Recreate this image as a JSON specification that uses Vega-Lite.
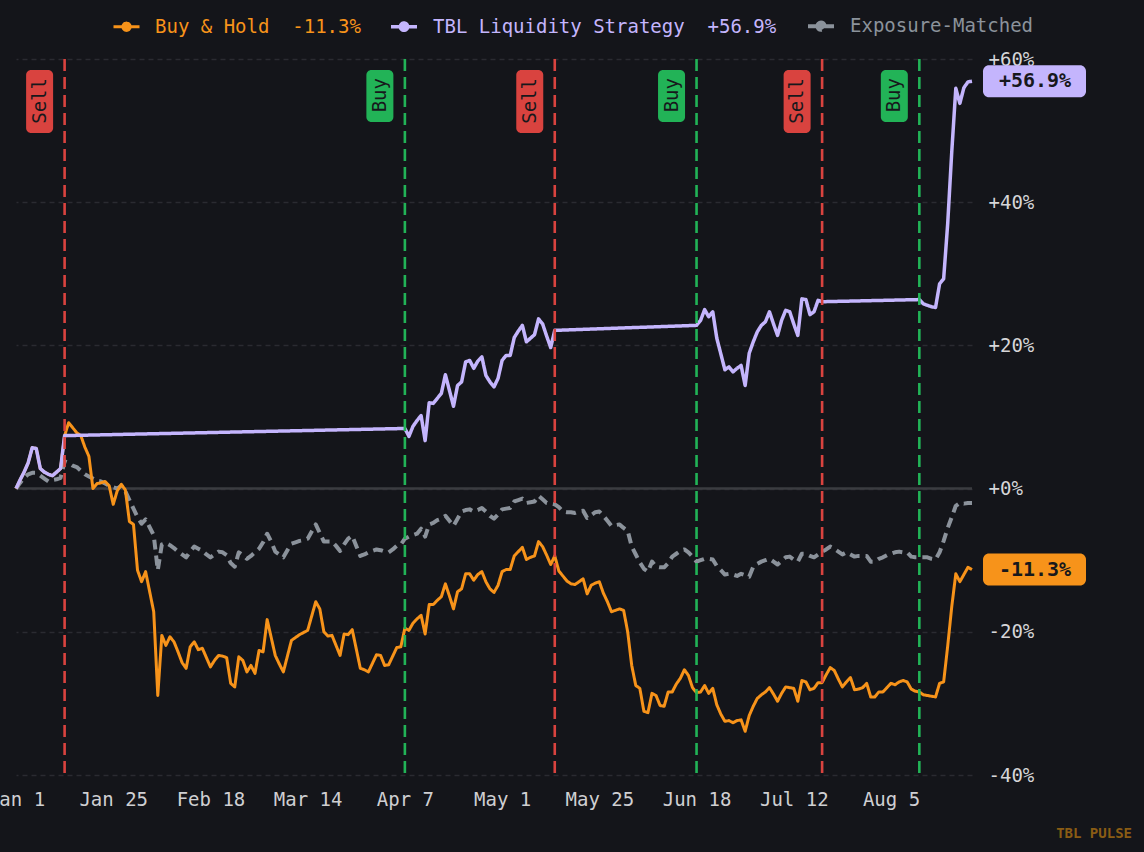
{
  "$schema": "https://vega.github.io/schema/vega-lite/v6.json",
  "width": 956,
  "height": 716,
  "autosize": {"type": "none"},
  "padding": {"left": 16, "top": 59, "right": 172, "bottom": 77},
  "background": "#14151a",
  "title": {
    "text": "TBL PULSE",
    "orient": "bottom",
    "anchor": "end",
    "frame": "group",
    "font": "DejaVu Sans Mono",
    "fontSize": 14,
    "fontWeight": "bold",
    "color": "#8a5c14",
    "offset": 18,
    "dx": 160
  },
  "datasets": {
    "perf": [
      {"d": "2025/01/01", "b": 0.0, "s": 0.0, "e": 0.0},
      {"d": "2025/01/02", "b": 1.2, "s": 1.2, "e": 0.8},
      {"d": "2025/01/03", "b": 2.3, "s": 2.3, "e": 1.5},
      {"d": "2025/01/04", "b": 3.6, "s": 3.6, "e": 2.0},
      {"d": "2025/01/05", "b": 5.7, "s": 5.7, "e": 2.2},
      {"d": "2025/01/06", "b": 5.6, "s": 5.6, "e": 2.2},
      {"d": "2025/01/07", "b": 2.8, "s": 2.8, "e": 1.8},
      {"d": "2025/01/08", "b": 2.3, "s": 2.3, "e": 1.4},
      {"d": "2025/01/09", "b": 2.0, "s": 2.0, "e": 1.0},
      {"d": "2025/01/10", "b": 1.8, "s": 1.8, "e": 1.2},
      {"d": "2025/01/11", "b": 2.3, "s": 2.3, "e": 1.3},
      {"d": "2025/01/12", "b": 2.8, "s": 2.8, "e": 1.5},
      {"d": "2025/01/13", "b": 7.4, "s": 7.4, "e": 3.8},
      {"d": "2025/01/14", "b": 9.2, "e": 3.6},
      {"d": "2025/01/15", "b": 8.5, "e": 3.2},
      {"d": "2025/01/16", "b": 7.8, "e": 3.0},
      {"d": "2025/01/17", "b": 7.4, "e": 2.5},
      {"d": "2025/01/18", "b": 5.8, "e": 2.0},
      {"d": "2025/01/19", "b": 4.5, "e": 1.7},
      {"d": "2025/01/20", "b": 0.0, "e": 1.4},
      {"d": "2025/01/21", "b": 0.7, "e": 1.1},
      {"d": "2025/01/22", "b": 0.8, "e": 1.0},
      {"d": "2025/01/23", "b": 1.0, "e": 0.7},
      {"d": "2025/01/24", "b": 0.4, "e": 0.4},
      {"d": "2025/01/25", "b": -2.2, "e": 0.2},
      {"d": "2025/01/26", "b": -0.3, "e": 0.0},
      {"d": "2025/01/27", "b": 0.6, "e": 0.4},
      {"d": "2025/01/28", "b": -0.2, "e": -0.4},
      {"d": "2025/01/29", "b": -4.6, "e": -1.6},
      {"d": "2025/01/30", "b": -5.0, "e": -2.8},
      {"d": "2025/01/31", "b": -11.4, "e": -4.0},
      {"d": "2025/02/01", "b": -13.0, "e": -4.9},
      {"d": "2025/02/02", "b": -11.6, "e": -4.3},
      {"d": "2025/02/03", "b": -14.4, "e": -5.4},
      {"d": "2025/02/04", "b": -17.2, "e": -6.5},
      {"d": "2025/02/05", "b": -28.9, "e": -11.4},
      {"d": "2025/02/06", "b": -20.5, "e": -7.8},
      {"d": "2025/02/07", "b": -21.9, "e": -7.6},
      {"d": "2025/02/08", "b": -20.7, "e": -7.9},
      {"d": "2025/02/09", "b": -21.4, "e": -8.3},
      {"d": "2025/02/10", "b": -22.8, "e": -8.8},
      {"d": "2025/02/11", "b": -24.3, "e": -9.2},
      {"d": "2025/02/12", "b": -25.1, "e": -9.6},
      {"d": "2025/02/13", "b": -22.1, "e": -8.8},
      {"d": "2025/02/14", "b": -21.4, "e": -8.1},
      {"d": "2025/02/15", "b": -22.5, "e": -8.4},
      {"d": "2025/02/16", "b": -22.3, "e": -8.7},
      {"d": "2025/02/17", "b": -23.6, "e": -9.2},
      {"d": "2025/02/18", "b": -24.9, "e": -9.6},
      {"d": "2025/02/19", "b": -24.0, "e": -9.2},
      {"d": "2025/02/20", "b": -23.3, "e": -8.8},
      {"d": "2025/02/21", "b": -23.4, "e": -8.9},
      {"d": "2025/02/22", "b": -23.6, "e": -9.3},
      {"d": "2025/02/23", "b": -27.2, "e": -10.4},
      {"d": "2025/02/24", "b": -27.7, "e": -10.9},
      {"d": "2025/02/25", "b": -23.5, "e": -8.9},
      {"d": "2025/02/26", "b": -24.0, "e": -9.3},
      {"d": "2025/02/27", "b": -25.6, "e": -9.8},
      {"d": "2025/02/28", "b": -24.7, "e": -9.4},
      {"d": "2025/03/01", "b": -25.8, "e": -8.9},
      {"d": "2025/03/02", "b": -22.6, "e": -8.4},
      {"d": "2025/03/03", "b": -22.8, "e": -7.5},
      {"d": "2025/03/04", "b": -18.3, "e": -6.3},
      {"d": "2025/03/05", "b": -20.8, "e": -7.4},
      {"d": "2025/03/06", "b": -23.3, "e": -8.8},
      {"d": "2025/03/07", "b": -24.5, "e": -9.2},
      {"d": "2025/03/08", "b": -25.6, "e": -9.6},
      {"d": "2025/03/09", "b": -23.4, "e": -8.6},
      {"d": "2025/03/10", "b": -21.2, "e": -7.7},
      {"d": "2025/03/11", "b": -20.8, "e": -7.5},
      {"d": "2025/03/12", "b": -20.4, "e": -7.3},
      {"d": "2025/03/13", "b": -20.1, "e": -7.2},
      {"d": "2025/03/14", "b": -19.8, "e": -7.0},
      {"d": "2025/03/15", "b": -17.8, "e": -6.0},
      {"d": "2025/03/16", "b": -15.8, "e": -5.0},
      {"d": "2025/03/17", "b": -16.8, "e": -6.2},
      {"d": "2025/03/18", "b": -20.0, "e": -7.4},
      {"d": "2025/03/19", "b": -20.6, "e": -7.4},
      {"d": "2025/03/20", "b": -20.5, "e": -7.4},
      {"d": "2025/03/21", "b": -21.9, "e": -8.0},
      {"d": "2025/03/22", "b": -23.3, "e": -8.7},
      {"d": "2025/03/23", "b": -20.3, "e": -7.8},
      {"d": "2025/03/24", "b": -20.4, "e": -7.0},
      {"d": "2025/03/25", "b": -19.7, "e": -6.6},
      {"d": "2025/03/26", "b": -22.4, "e": -8.0},
      {"d": "2025/03/27", "b": -25.1, "e": -9.4},
      {"d": "2025/03/28", "b": -25.3, "e": -9.2},
      {"d": "2025/03/29", "b": -25.6, "e": -8.9},
      {"d": "2025/03/30", "b": -24.4, "e": -8.7},
      {"d": "2025/03/31", "b": -23.2, "e": -8.5},
      {"d": "2025/04/01", "b": -23.3, "e": -8.6},
      {"d": "2025/04/02", "b": -24.7, "e": -8.8},
      {"d": "2025/04/03", "b": -24.6, "e": -8.9},
      {"d": "2025/04/04", "b": -23.4, "e": -8.5},
      {"d": "2025/04/05", "b": -22.2, "e": -8.0},
      {"d": "2025/04/06", "b": -22.1, "e": -7.8},
      {"d": "2025/04/07", "b": -19.5, "s": 8.4, "e": -7.0},
      {"d": "2025/04/08", "b": -19.8, "s": 7.3, "e": -6.7},
      {"d": "2025/04/09", "b": -18.8, "s": 8.7, "e": -6.5},
      {"d": "2025/04/10", "b": -18.2, "s": 9.5, "e": -6.3},
      {"d": "2025/04/11", "b": -17.7, "s": 10.2, "e": -5.6},
      {"d": "2025/04/12", "b": -20.3, "s": 6.7, "e": -6.7},
      {"d": "2025/04/13", "b": -16.2, "s": 12.0, "e": -5.0},
      {"d": "2025/04/14", "b": -16.2, "s": 11.9, "e": -4.8},
      {"d": "2025/04/15", "b": -15.6, "s": 12.6, "e": -4.4},
      {"d": "2025/04/16", "b": -15.1, "s": 13.3, "e": -4.2},
      {"d": "2025/04/17", "b": -13.3, "s": 15.9, "e": -3.8},
      {"d": "2025/04/18", "b": -15.0, "s": 13.7, "e": -4.5},
      {"d": "2025/04/19", "b": -16.8, "s": 11.5, "e": -5.2},
      {"d": "2025/04/20", "b": -14.4, "s": 14.4, "e": -4.2},
      {"d": "2025/04/21", "b": -14.0, "s": 14.9, "e": -3.2},
      {"d": "2025/04/22", "b": -11.9, "s": 17.7, "e": -3.0},
      {"d": "2025/04/23", "b": -11.9, "s": 17.9, "e": -2.9},
      {"d": "2025/04/24", "b": -12.8, "s": 16.8, "e": -3.2},
      {"d": "2025/04/25", "b": -12.0, "s": 17.8, "e": -3.0},
      {"d": "2025/04/26", "b": -11.6, "s": 18.4, "e": -2.7},
      {"d": "2025/04/27", "b": -13.0, "s": 15.8, "e": -3.2},
      {"d": "2025/04/28", "b": -14.0, "s": 14.9, "e": -3.8},
      {"d": "2025/04/29", "b": -14.5, "s": 14.2, "e": -4.2},
      {"d": "2025/04/30", "b": -13.5, "s": 15.4, "e": -3.6},
      {"d": "2025/05/01", "b": -11.6, "s": 17.9, "e": -2.9},
      {"d": "2025/05/02", "b": -11.3, "s": 18.6, "e": -2.8},
      {"d": "2025/05/03", "b": -11.3, "s": 18.6, "e": -2.7},
      {"d": "2025/05/04", "b": -9.4, "s": 21.1, "e": -1.8},
      {"d": "2025/05/05", "b": -8.8, "s": 22.0, "e": -1.6},
      {"d": "2025/05/06", "b": -8.2, "s": 22.8, "e": -1.4},
      {"d": "2025/05/07", "b": -9.9, "s": 20.5, "e": -2.0},
      {"d": "2025/05/08", "b": -9.6, "s": 21.0, "e": -1.9},
      {"d": "2025/05/09", "b": -9.4, "s": 21.5, "e": -1.8},
      {"d": "2025/05/10", "b": -7.4, "s": 23.7, "e": -1.0},
      {"d": "2025/05/11", "b": -8.1, "s": 23.0, "e": -1.5},
      {"d": "2025/05/12", "b": -9.3, "s": 21.3, "e": -2.0},
      {"d": "2025/05/13", "b": -10.6, "s": 19.7, "e": -2.1},
      {"d": "2025/05/14", "b": -9.4, "s": 22.1, "e": -2.2},
      {"d": "2025/05/15", "b": -11.5, "e": -2.6},
      {"d": "2025/05/16", "b": -12.2, "e": -3.2},
      {"d": "2025/05/17", "b": -12.9, "e": -3.3},
      {"d": "2025/05/18", "b": -13.3, "e": -3.3},
      {"d": "2025/05/19", "b": -13.4, "e": -3.4},
      {"d": "2025/05/20", "b": -13.0, "e": -3.2},
      {"d": "2025/05/21", "b": -12.6, "e": -3.1},
      {"d": "2025/05/22", "b": -14.7, "e": -4.1},
      {"d": "2025/05/23", "b": -13.5, "e": -3.7},
      {"d": "2025/05/24", "b": -13.2, "e": -3.3},
      {"d": "2025/05/25", "b": -13.0, "e": -3.2},
      {"d": "2025/05/26", "b": -14.6, "e": -3.8},
      {"d": "2025/05/27", "b": -15.8, "e": -4.5},
      {"d": "2025/05/28", "b": -17.2, "e": -5.2},
      {"d": "2025/05/29", "b": -17.0, "e": -5.1},
      {"d": "2025/05/30", "b": -16.8, "e": -5.0},
      {"d": "2025/05/31", "b": -17.0, "e": -5.5},
      {"d": "2025/06/01", "b": -20.0, "e": -5.9},
      {"d": "2025/06/02", "b": -24.7, "e": -8.1},
      {"d": "2025/06/03", "b": -27.5, "e": -9.2},
      {"d": "2025/06/04", "b": -27.9, "e": -10.3},
      {"d": "2025/06/05", "b": -31.1, "e": -11.2},
      {"d": "2025/06/06", "b": -31.3, "e": -11.6},
      {"d": "2025/06/07", "b": -28.6, "e": -10.2},
      {"d": "2025/06/08", "b": -28.9, "e": -10.9},
      {"d": "2025/06/09", "b": -30.3, "e": -11.0},
      {"d": "2025/06/10", "b": -30.4, "e": -11.0},
      {"d": "2025/06/11", "b": -28.4, "e": -10.4},
      {"d": "2025/06/12", "b": -28.4, "e": -9.5},
      {"d": "2025/06/13", "b": -27.3, "e": -9.1},
      {"d": "2025/06/14", "b": -26.5, "e": -8.7},
      {"d": "2025/06/15", "b": -25.3, "e": -8.5},
      {"d": "2025/06/16", "b": -26.1, "e": -8.9},
      {"d": "2025/06/17", "b": -27.8, "e": -9.5},
      {"d": "2025/06/18", "b": -28.5, "s": 22.8, "e": -10.2},
      {"d": "2025/06/19", "b": -28.4, "s": 23.5, "e": -10.0},
      {"d": "2025/06/20", "b": -27.5, "s": 25.0, "e": -9.8},
      {"d": "2025/06/21", "b": -28.6, "s": 24.0, "e": -9.8},
      {"d": "2025/06/22", "b": -27.9, "s": 24.7, "e": -9.9},
      {"d": "2025/06/23", "b": -30.2, "s": 21.0, "e": -10.8},
      {"d": "2025/06/24", "b": -31.5, "s": 18.8, "e": -11.4},
      {"d": "2025/06/25", "b": -32.5, "s": 16.6, "e": -12.0},
      {"d": "2025/06/26", "b": -32.4, "s": 17.0, "e": -11.9},
      {"d": "2025/06/27", "b": -32.7, "s": 16.3, "e": -12.0},
      {"d": "2025/06/28", "b": -32.4, "s": 16.8, "e": -12.2},
      {"d": "2025/06/29", "b": -32.3, "s": 17.2, "e": -11.9},
      {"d": "2025/06/30", "b": -33.9, "s": 14.4, "e": -12.1},
      {"d": "2025/07/01", "b": -31.7, "s": 18.9, "e": -12.3},
      {"d": "2025/07/02", "b": -30.4, "s": 20.5, "e": -10.9},
      {"d": "2025/07/03", "b": -29.3, "s": 21.9, "e": -10.5},
      {"d": "2025/07/04", "b": -28.8, "s": 22.8, "e": -10.2},
      {"d": "2025/07/05", "b": -28.4, "s": 23.3, "e": -10.0},
      {"d": "2025/07/06", "b": -27.8, "s": 24.7, "e": -9.8},
      {"d": "2025/07/07", "b": -28.7, "s": 23.0, "e": -10.2},
      {"d": "2025/07/08", "b": -29.7, "s": 21.4, "e": -10.6},
      {"d": "2025/07/09", "b": -28.6, "s": 23.5, "e": -10.1},
      {"d": "2025/07/10", "b": -27.7, "s": 24.9, "e": -9.6},
      {"d": "2025/07/11", "b": -27.8, "s": 24.7, "e": -9.5},
      {"d": "2025/07/12", "b": -27.9, "s": 23.0, "e": -9.9},
      {"d": "2025/07/13", "b": -29.7, "s": 21.4, "e": -10.2},
      {"d": "2025/07/14", "b": -26.8, "s": 26.5, "e": -9.1},
      {"d": "2025/07/15", "b": -27.0, "s": 26.4, "e": -9.1},
      {"d": "2025/07/16", "b": -28.1, "s": 24.3, "e": -9.4},
      {"d": "2025/07/17", "b": -27.9, "s": 24.7, "e": -9.6},
      {"d": "2025/07/18", "b": -27.1, "s": 26.3, "e": -9.2},
      {"d": "2025/07/19", "b": -27.1, "s": 26.1, "e": -8.8},
      {"d": "2025/07/20", "b": -26.0, "e": -8.5},
      {"d": "2025/07/21", "b": -25.0, "e": -8.1},
      {"d": "2025/07/22", "b": -25.4, "e": -8.4},
      {"d": "2025/07/23", "b": -26.6, "e": -8.8},
      {"d": "2025/07/24", "b": -27.7, "e": -9.2},
      {"d": "2025/07/25", "b": -27.0, "e": -8.9},
      {"d": "2025/07/26", "b": -26.4, "e": -9.2},
      {"d": "2025/07/27", "b": -28.1, "e": -9.5},
      {"d": "2025/07/28", "b": -28.0, "e": -9.4},
      {"d": "2025/07/29", "b": -27.8, "e": -9.4},
      {"d": "2025/07/30", "b": -27.2, "e": -9.4},
      {"d": "2025/07/31", "b": -29.1, "e": -10.2},
      {"d": "2025/08/01", "b": -29.1, "e": -10.2},
      {"d": "2025/08/02", "b": -28.4, "e": -9.8},
      {"d": "2025/08/03", "b": -28.4, "e": -9.6},
      {"d": "2025/08/04", "b": -27.8, "e": -9.3},
      {"d": "2025/08/05", "b": -27.2, "e": -9.1},
      {"d": "2025/08/06", "b": -27.4, "e": -8.9},
      {"d": "2025/08/07", "b": -27.0, "e": -8.8},
      {"d": "2025/08/08", "b": -26.8, "e": -8.9},
      {"d": "2025/08/09", "b": -27.0, "e": -8.9},
      {"d": "2025/08/10", "b": -28.0, "e": -9.5},
      {"d": "2025/08/11", "b": -28.3, "e": -9.6},
      {"d": "2025/08/12", "b": -28.4, "s": 26.4, "e": -9.6},
      {"d": "2025/08/13", "b": -28.8, "s": 25.8, "e": -9.6},
      {"d": "2025/08/14", "b": -28.9, "s": 25.6, "e": -9.6},
      {"d": "2025/08/15", "b": -29.0, "s": 25.4, "e": -9.8},
      {"d": "2025/08/16", "b": -29.1, "s": 25.3, "e": -9.9},
      {"d": "2025/08/17", "b": -27.2, "s": 28.6, "e": -8.9},
      {"d": "2025/08/18", "b": -27.0, "s": 29.3, "e": -7.3},
      {"d": "2025/08/19", "b": -22.0, "s": 37.0, "e": -5.5},
      {"d": "2025/08/20", "b": -16.5, "s": 47.0, "e": -4.0},
      {"d": "2025/08/21", "b": -11.9, "s": 55.9, "e": -2.4},
      {"d": "2025/08/22", "b": -13.0, "s": 53.8, "e": -2.0},
      {"d": "2025/08/23", "b": -12.0, "s": 56.0, "e": -2.1},
      {"d": "2025/08/24", "b": -11.0, "s": 56.8, "e": -2.0},
      {"d": "2025/08/25", "b": -11.3, "s": 56.9, "e": -2.0}
    ],
    "signals": [
      {"d": "2025/01/13", "t": "Sell"},
      {"d": "2025/04/07", "t": "Buy"},
      {"d": "2025/05/14", "t": "Sell"},
      {"d": "2025/06/18", "t": "Buy"},
      {"d": "2025/07/19", "t": "Sell"},
      {"d": "2025/08/12", "t": "Buy"}
    ],
    "ends": [
      {"d": "2025/08/25", "k": "s", "v": 56.9, "label": "+56.9%"},
      {"d": "2025/08/25", "k": "b", "v": -11.3, "label": "-11.3%"}
    ]
  },
  "encoding": {
    "x": {
      "field": "d",
      "type": "temporal",
      "scale": {
        "domain": [
          {"year": 2025, "month": 1, "date": 1},
          {"year": 2025, "month": 8, "date": 25}
        ],
        "nice": false
      },
      "axis": {
        "title": null,
        "values": [
          {"year": 2025, "month": 1, "date": 1},
          {"year": 2025, "month": 1, "date": 25},
          {"year": 2025, "month": 2, "date": 18},
          {"year": 2025, "month": 3, "date": 14},
          {"year": 2025, "month": 4, "date": 7},
          {"year": 2025, "month": 5, "date": 1},
          {"year": 2025, "month": 5, "date": 25},
          {"year": 2025, "month": 6, "date": 18},
          {"year": 2025, "month": 7, "date": 12},
          {"year": 2025, "month": 8, "date": 5}
        ],
        "format": "%b %-d",
        "grid": false,
        "domain": false,
        "ticks": false,
        "labelFlush": false,
        "labelOverlap": false,
        "labelBound": false,
        "labelPadding": 15,
        "labelFontSize": 19,
        "labelColor": "#cfcfd2"
      }
    }
  },
  "layer": [
    {
      "data": {"name": "ends"},
      "mark": {"type": "rule", "color": "#3b3c41", "strokeWidth": 2},
      "encoding": {
        "x": null,
        "y": {
          "datum": 0,
          "type": "quantitative",
          "scale": {"domain": [-40, 60], "nice": false, "zero": false},
          "axis": {
            "orient": "right",
            "title": null,
            "values": [-40, -20, 0, 20, 40, 60],
            "labelExpr": "(datum.value >= 0 ? '+' : '') + datum.value + '%'",
            "grid": true,
            "gridColor": "#2a2b31",
            "gridDash": [5, 4],
            "gridWidth": 1.5,
            "domain": false,
            "ticks": false,
            "labelPadding": 16,
            "labelFontSize": 19,
            "labelColor": "#d6d6d8"
          }
        }
      }
    },
    {
      "data": {"name": "perf"},
      "transform": [
        {"fold": ["e", "b", "s"], "as": ["k", "v"]},
        {"filter": "isValid(datum.v)"}
      ],
      "mark": {"type": "line", "strokeJoin": "round"},
      "encoding": {
        "y": {"field": "v", "type": "quantitative"},
        "color": {
          "field": "k",
          "type": "nominal",
          "scale": {"domain": ["b", "s", "e"], "range": ["#f7931a", "#c4b5fd", "#8b929b"]},
          "legend": {
            "orient": "none",
            "legendX": 96,
            "legendY": -48,
            "direction": "horizontal",
            "title": null,
            "padding": 0,
            "symbolType": "M-1,0H1M-0.28,0A0.28,0.28,0,1,1,0.28,0A0.28,0.28,0,1,1,-0.28,0Z",
            "symbolSize": 676,
            "symbolStrokeWidth": 3,
            "labelFontSize": 19,
            "labelOffset": 14,
            "labelLimit": 600,
            "columnPadding": 23,
            "labelExpr": "datum.value == 'b' ? 'Buy & Hold\u00a0\u00a0-11.3%' : datum.value == 's' ? 'TBL Liquidity Strategy\u00a0\u00a0+56.9%' : 'Exposure-Matched'",
            "encode": {
              "labels": {"update": {"fill": {"signal": "scale('color', datum.value)"}}},
              "symbols": {"update": {"fill": {"signal": "scale('color', datum.value)"}}}
            }
          }
        },
        "strokeDash": {
          "field": "k",
          "type": "nominal",
          "scale": {"domain": ["b", "s", "e"], "range": [[1, 0], [1, 0], [10, 6]]}
        },
        "strokeWidth": {
          "field": "k",
          "type": "nominal",
          "scale": {"domain": ["b", "s", "e"], "range": [3, 4, 2.8]},
          "legend": null
        }
      }
    },
    {
      "data": {"name": "signals"},
      "mark": {"type": "rule", "strokeDash": [12, 6], "strokeWidth": 2.6},
      "encoding": {
        "color": {"condition": {"test": "datum.t == 'Sell'", "value": "#d9433f"}, "value": "#22b357"}
      }
    },
    {
      "data": {"name": "signals"},
      "transform": [{"filter": "datum.t == 'Sell'"}],
      "mark": {"type": "rect", "cornerRadius": 5, "color": "#d9433f", "xOffset": -38.5, "x2Offset": -11.5, "yOffset": 11, "y2Offset": 74},
      "encoding": {
        "x2": {"field": "d"},
        "y": {"datum": 60, "type": "quantitative"},
        "y2": {"datum": 60}
      }
    },
    {
      "data": {"name": "signals"},
      "transform": [{"filter": "datum.t == 'Buy'"}],
      "mark": {"type": "rect", "cornerRadius": 5, "color": "#22b357", "xOffset": -38.5, "x2Offset": -11.5, "yOffset": 11, "y2Offset": 63},
      "encoding": {
        "x2": {"field": "d"},
        "y": {"datum": 60, "type": "quantitative"},
        "y2": {"datum": 60}
      }
    },
    {
      "data": {"name": "signals"},
      "mark": {"type": "text", "angle": 270, "align": "right", "baseline": "middle", "fontSize": 19, "color": "#17181c", "xOffset": -25, "yOffset": 19},
      "encoding": {
        "y": {"datum": 60, "type": "quantitative"},
        "text": {"field": "t"}
      }
    },
    {
      "data": {"name": "ends"},
      "mark": {"type": "rect", "cornerRadius": 6, "xOffset": 11, "x2Offset": 114, "yOffset": -16, "y2Offset": 16},
      "encoding": {
        "x2": {"field": "d"},
        "y": {"field": "v", "type": "quantitative"},
        "y2": {"field": "v"},
        "color": {"condition": {"test": "datum.k == 's'", "value": "#c4b5fd"}, "value": "#f7931a"}
      }
    },
    {
      "data": {"name": "ends"},
      "mark": {"type": "text", "align": "center", "baseline": "middle", "fontSize": 20, "fontWeight": "bold", "color": "#17181c", "xOffset": 63},
      "encoding": {
        "y": {"field": "v", "type": "quantitative"},
        "text": {"field": "label"}
      }
    }
  ],
  "config": {
    "font": "DejaVu Sans Mono",
    "view": {"stroke": null},
    "axis": {"labelFont": "DejaVu Sans Mono"},
    "legend": {"labelFont": "DejaVu Sans Mono"},
    "text": {"font": "DejaVu Sans Mono"}
  }
}
